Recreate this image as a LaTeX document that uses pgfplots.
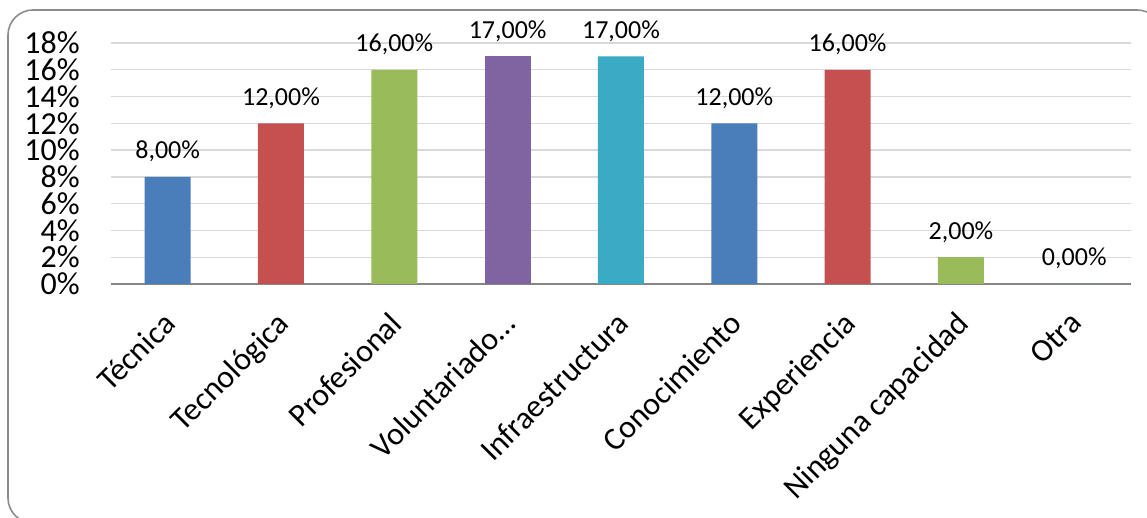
\documentclass[border=0pt]{standalone}
\usepackage{pgfplots}
\pgfplotsset{compat=1.18}
\usepackage{fontspec}
\setmainfont{Carlito}
\definecolor{xblue}{HTML}{4A7EBB}
\definecolor{xred}{HTML}{C55050}
\definecolor{xgreen}{HTML}{9ABB59}
\definecolor{xpurple}{HTML}{8064A2}
\definecolor{xaqua}{HTML}{3AABC4}
\definecolor{gridgray}{HTML}{D9D9D9}
\definecolor{axisgray}{HTML}{868686}
\definecolor{framegray}{HTML}{8C8C8C}
\begin{document}
\begin{tikzpicture}[x=1pt,y=1pt]
\useasboundingbox (0,0) rectangle (1147,518);
\clip (0,0) rectangle (1147,518);
\draw[color=framegray, line width=1.6pt, rounded corners=25pt] (8,508) rectangle (1162,-5);
\begin{axis}[
  at={(111pt,234pt)}, anchor=south west,
  scale only axis, width=1020pt, height=241pt,
  xmin=-0.5, xmax=8.5, ymin=0, ymax=18,
  axis line style={draw=none},
  major tick length=0pt,
  ymajorgrids, grid style={color=gridgray, line width=1.4pt},
  ytick={2,4,...,18},
  yticklabels={2\%,4\%,6\%,8\%,10\%,12\%,14\%,16\%,18\%},
  extra y ticks={0}, extra y tick labels={0\%},
  extra y tick style={grid style={color=axisgray, line width=1.5pt}},
  yticklabel style={anchor=east, inner sep=0pt, xshift=-31pt, font=\fontsize{32}{36}\selectfont},
  xtick={0,...,8},
  xticklabels={Técnica,Tecnológica,Profesional,Voluntariado…,Infraestructura,Conocimiento,Experiencia,Ninguna capacidad,Otra},
  xticklabel style={yshift=-26pt, xshift=-6pt, rotate=45, anchor=north east, inner sep=0pt, font=\fontsize{32}{36}\selectfont},
  ybar, bar width=46pt, bar shift=0pt,
  clip=false,
  point meta=explicit symbolic,
  nodes near coords,
  every node near coord/.append style={anchor=base, inner sep=0pt, yshift=18pt, color=black, font=\fontsize{26}{30}\selectfont},
]
\addplot[draw=none, fill=xblue] coordinates {(0,8) [8,00\%] (5,12) [12,00\%]};
\addplot[draw=none, fill=xred] coordinates {(1,12) [12,00\%] (6,16) [16,00\%]};
\addplot[draw=none, fill=xgreen] coordinates {(2,16) [16,00\%] (7,2) [2,00\%]};
\addplot[draw=none, fill=xpurple] coordinates {(3,17) [17,00\%]};
\addplot[draw=none, fill=xaqua] coordinates {(4,17) [17,00\%] (8,0) [0,00\%]};
\end{axis}
\end{tikzpicture}
\end{document}
